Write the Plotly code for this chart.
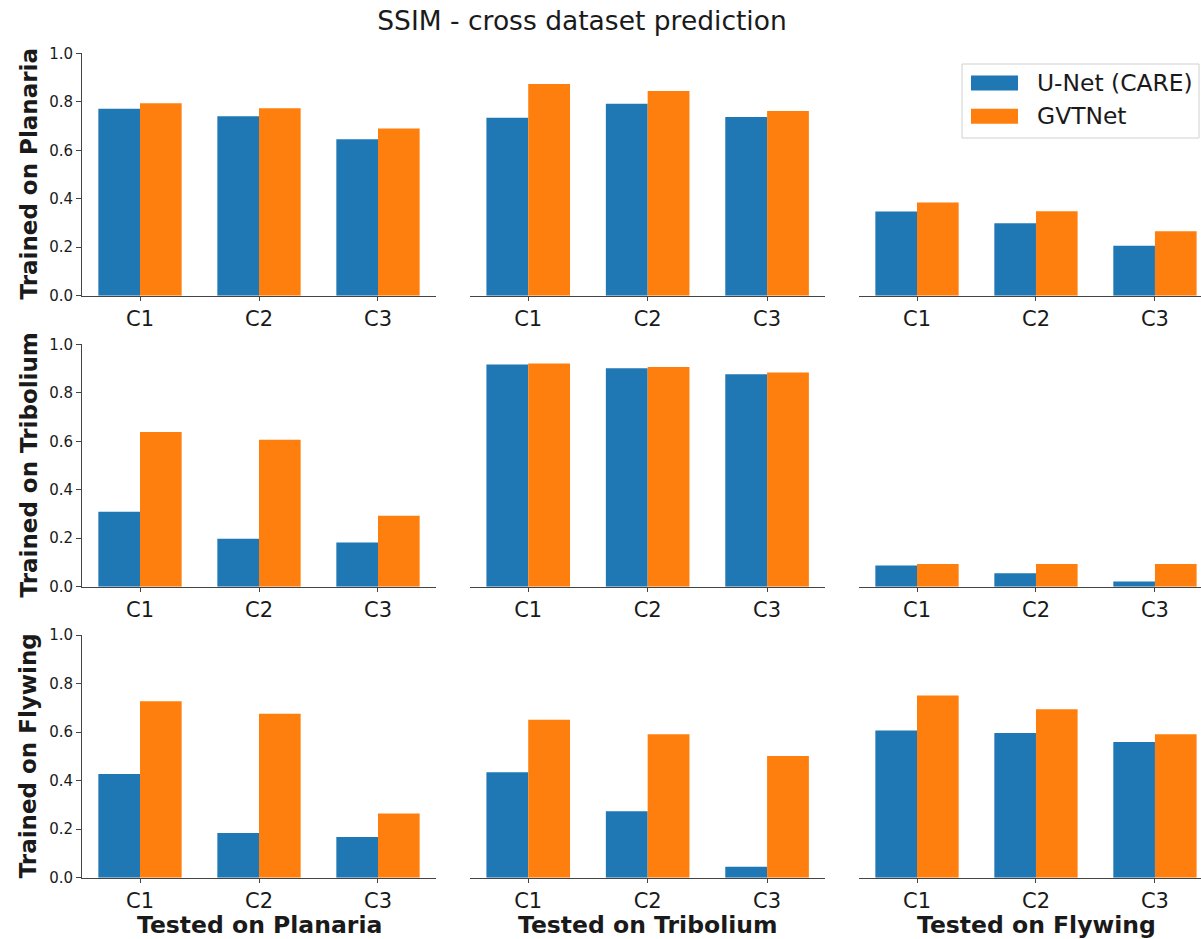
import plotly.graph_objects as go

# Conditions tested in every panel
categories = ["C1", "C2", "C3"]
datasets = ["Planaria", "Tribolium", "Flywing"]
series_names = ["U-Net (CARE)", "GVTNet"]
series_colors = ["#1f77b4", "#ff7f0e"]
y_ticks = [0.0, 0.2, 0.4, 0.6, 0.8, 1.0]

# SSIM per training set; inner lists follow the test sets Planaria, Tribolium, Flywing
unet_trained_planaria = [[0.771, 0.740, 0.645], [0.734, 0.792, 0.737], [0.347, 0.299, 0.206]]
gvtnet_trained_planaria = [[0.794, 0.773, 0.690], [0.873, 0.844, 0.762], [0.385, 0.348, 0.266]]

unet_trained_tribolium = [[0.309, 0.198, 0.182], [0.917, 0.901, 0.876], [0.087, 0.055, 0.021]]
gvtnet_trained_tribolium = [[0.638, 0.606, 0.293], [0.921, 0.906, 0.884], [0.094, 0.094, 0.094]]

unet_trained_flywing = [[0.427, 0.184, 0.168], [0.434, 0.274, 0.045], [0.607, 0.596, 0.559]]
gvtnet_trained_flywing = [[0.727, 0.676, 0.265], [0.651, 0.591, 0.501], [0.751, 0.694, 0.591]]

unet_rows = [unet_trained_planaria, unet_trained_tribolium, unet_trained_flywing]
gvtnet_rows = [gvtnet_trained_planaria, gvtnet_trained_tribolium, gvtnet_trained_flywing]

W, H = 1201, 939
FONT = "DejaVu Sans"
TEXT = "#1a1a1a"
SPINE = "#444444"

# panel placement in pixels
col_px = [(82.3, 435.7), (470.3, 825.0), (859.3, 1201.0)]
col_ranges = [[-0.485, 2.485], [-0.485, 2.485], [-0.485, 2.387]]
row_px = [(53.3, 295.7), (344.3, 586.7), (635.0, 877.7)]

fig = go.Figure()
layout = {}

for r in range(3):
    for c in range(3):
        k = r * 3 + c + 1
        xa = "x" if k == 1 else f"x{k}"
        ya = "y" if k == 1 else f"y{k}"
        for s, vals in enumerate([unet_rows[r][c], gvtnet_rows[r][c]]):
            fig.add_trace(go.Bar(
                x=categories, y=vals, name=series_names[s],
                marker=dict(color=series_colors[s], line=dict(width=0)),
                xaxis=xa, yaxis=ya, showlegend=False,
            ))
        x0, x1 = col_px[c]
        top, bot = row_px[r]
        layout["xaxis" if k == 1 else f"xaxis{k}"] = dict(
            domain=[x0 / W, x1 / W], anchor=ya, type="category",
            range=col_ranges[c], showgrid=False, zeroline=False, automargin=False,
            showline=True, linecolor=SPINE, linewidth=1.4,
            ticks="outside", ticklen=4, tickwidth=1.2, tickcolor=SPINE,
            tickfont=dict(family=FONT, size=21, color=TEXT),
        )
        layout["yaxis" if k == 1 else f"yaxis{k}"] = dict(
            domain=[1 - bot / H, 1 - top / H], anchor=xa,
            range=[0, 1.0], showgrid=False, zeroline=False, automargin=False,
            showline=(c == 0), linecolor=SPINE, linewidth=1.4,
            showticklabels=(c == 0),
            ticks="outside" if c == 0 else "", ticklen=5, tickwidth=1.2, tickcolor=SPINE,
            tickvals=y_ticks, tickformat=".1f",
            tickfont=dict(family=FONT, size=15, color=TEXT),
        )

annotations = []
# row labels
for r in range(3):
    top, bot = row_px[r]
    annotations.append(dict(
        text=f"<b>Trained on {datasets[r]}</b>", xref="paper", yref="paper",
        x=28 / W, y=1 - (top + bot) / 2 / H, textangle=-90,
        xanchor="center", yanchor="middle", showarrow=False,
        font=dict(family=FONT, size=23, color=TEXT),
    ))
# column labels
col_centers = [259.0, 647.6, 1036.0]
for c in range(3):
    annotations.append(dict(
        text=f"<b>Tested on {datasets[c]}</b>", xref="paper", yref="paper",
        x=col_centers[c] / W, y=1 - 925 / H,
        xanchor="center", yanchor="middle", showarrow=False,
        font=dict(family=FONT, size=23.5, color=TEXT),
    ))

# legend drawn in the top-right panel
shapes = [dict(type="rect", xref="paper", yref="paper",
               x0=962 / W, x1=1199 / W, y0=1 - 138 / H, y1=1 - 64 / H,
               line=dict(color="#d0d0d0", width=1), fillcolor="rgba(255,255,255,0.8)")]
entry_y = [83.0, 116.3]
for s in range(2):
    yc = entry_y[s]
    shapes.append(dict(type="rect", xref="paper", yref="paper",
                       x0=971 / W, x1=1018 / W, y0=1 - (yc + 7.5) / H, y1=1 - (yc - 7.5) / H,
                       line=dict(width=0), fillcolor=series_colors[s]))
    annotations.append(dict(
        text=series_names[s], xref="paper", yref="paper",
        x=1035 / W, y=1 - yc / H, xanchor="left", yanchor="middle",
        showarrow=False, font=dict(family=FONT, size=23.4, color=TEXT),
    ))

fig.update_layout(
    **layout,
    width=W, height=H,
    margin=dict(l=0, r=0, t=0, b=0, autoexpand=False),
    paper_bgcolor="white", plot_bgcolor="white",
    barmode="group", bargap=0.3, bargroupgap=0,
    title=dict(text="SSIM - cross dataset prediction", x=582 / W, y=1 - 21 / H,
               xanchor="center", yanchor="middle",
               font=dict(family=FONT, size=26.5, color=TEXT)),
    annotations=annotations, shapes=shapes,
    showlegend=False,
)

fig.write_html("out.html")
